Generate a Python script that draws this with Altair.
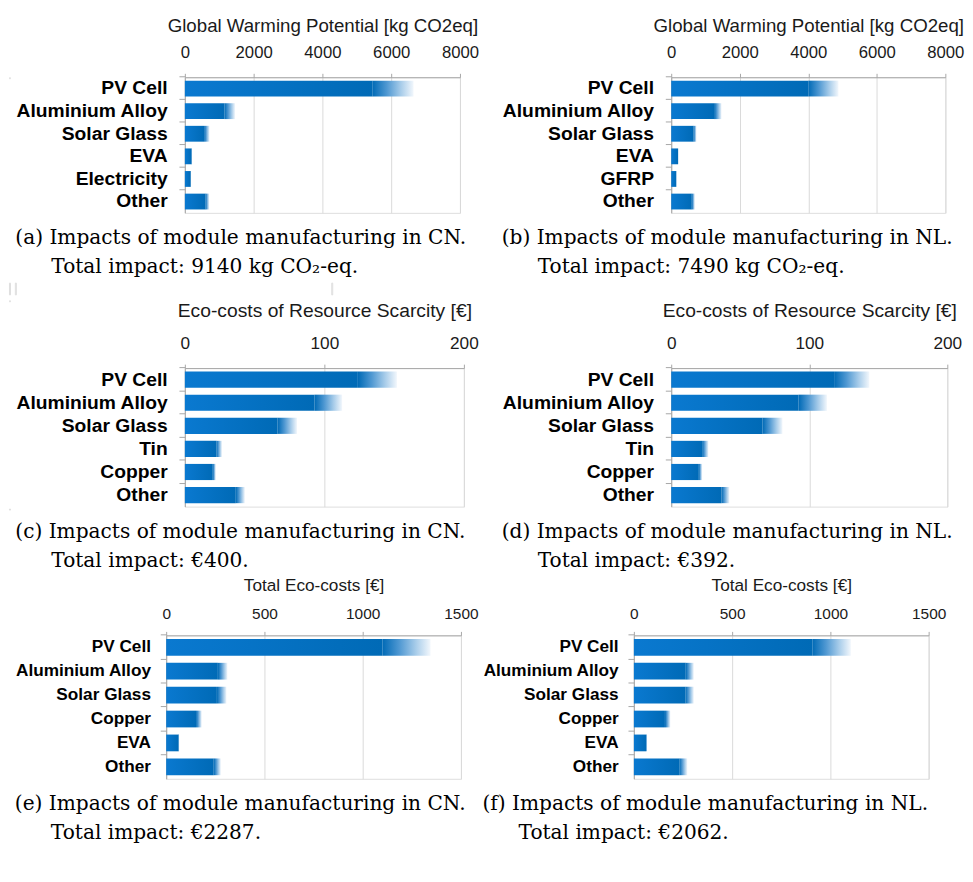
import altair as alt
import pandas as pd

# ---------------- data ----------------
a_cats = ["PV Cell", "Aluminium Alloy", "Solar Glass", "EVA", "Electricity", "Other"]
a_solid = [5450, 1150, 560, 190, 165, 600]
a_end = [6650, 1460, 720, 210, 180, 710]

b_cats = ["PV Cell", "Aluminium Alloy", "Solar Glass", "EVA", "GFRP", "Other"]
b_solid = [4000, 1250, 650, 200, 145, 600]
b_end = [4880, 1470, 740, 215, 160, 690]

c_cats = ["PV Cell", "Aluminium Alloy", "Solar Glass", "Tin", "Copper", "Other"]
c_solid = [124, 93, 66.5, 22.6, 20, 36.5]
c_end = [152, 112.7, 80.4, 26.6, 22.2, 43]

d_cats = ["PV Cell", "Aluminium Alloy", "Solar Glass", "Tin", "Copper", "Other"]
d_solid = [118, 92.3, 66.2, 22.4, 20, 36.4]
d_end = [143.5, 112.8, 80.6, 27, 22.4, 42.2]

e_cats = ["PV Cell", "Aluminium Alloy", "Solar Glass", "Copper", "EVA", "Other"]
e_solid = [1100, 263, 258, 152, 62, 242]
e_end = [1345, 312, 307, 181, 67, 278]

f_cats = ["PV Cell", "Aluminium Alloy", "Solar Glass", "Copper", "EVA", "Other"]
f_solid = [908, 264, 262, 158, 62, 231]
f_end = [1104, 305, 305, 186, 67, 272]

gwp_title = "Global Warming Potential [kg CO2eq]"
res_title = "Eco-costs of Resource Scarcity [€]"
tot_title = "Total Eco-costs [€]"
gwp_ticks = [0, 2000, 4000, 6000, 8000]
res_ticks = [0, 100, 200]
tot_ticks = [0, 500, 1000, 1500]

IND = "\u200b" + "\u00a0" * 5 + "\u2009"
cap_a = ["(a) Impacts of module manufacturing in CN.", IND + "Total impact: 9140 kg CO\u2082-eq."]
cap_b = ["(b) Impacts of module manufacturing in NL.", IND + "Total impact: 7490 kg CO\u2082-eq."]
cap_c = ["(c) Impacts of module manufacturing in CN.", IND + "Total impact: €400."]
cap_d = ["(d) Impacts of module manufacturing in NL.", IND + "Total impact: €392."]
cap_e = ["(e) Impacts of module manufacturing in CN.", IND + "Total impact: €2287."]
cap_f = ["(f) Impacts of module manufacturing in NL.", IND + "Total impact: €2062."]

SANS = "Liberation Sans"
SERIF = "DejaVu Serif"

solid_grad = alt.Gradient(
    gradient="linear", x1=0, x2=1, y1=0, y2=0,
    stops=[alt.GradientStop(color="#0a79d0", offset=0),
           alt.GradientStop(color="#006ab6", offset=1)])
fade_grad = alt.Gradient(
    gradient="linear", x1=0, x2=1, y1=0, y2=0,
    stops=[alt.GradientStop(color="#006ab6", offset=0),
           alt.GradientStop(color="#4f98d2", offset=0.35),
           alt.GradientStop(color="#a9cdea", offset=0.7),
           alt.GradientStop(color="#f2f7fc", offset=1)])


def panel(cats, solid, end, xtitle, ticks, width, height, caption,
          lab_fs, tick_fs, title_fs, title_pad, lab_pad, cap_off, ylab_pad):
    df = pd.DataFrame({"cat": cats, "start": [0] * len(cats),
                       "solid": solid, "end": end})
    xmax = ticks[-1]
    y = alt.Y("cat:N", sort=cats, title=None,
              scale=alt.Scale(paddingInner=0.3, paddingOuter=0.15),
              axis=alt.Axis(labelFont=SANS, labelFontWeight="bold",
                            labelFontSize=lab_fs, labelColor="#000000",
                            labelPadding=ylab_pad, tickSize=6, tickColor="#a6a6a6",
                            domainColor="#a6a6a6", bandPosition=-0.2143,
                            labelLimit=400))
    base = alt.Chart(df)
    s = base.mark_bar(color=solid_grad).encode(
        x=alt.X("start:Q", scale=alt.Scale(domain=[0, xmax], nice=False),
                axis=alt.Axis(orient="top", values=ticks, format="d", title=xtitle,
                              titleFont=SANS, titleFontSize=title_fs,
                              titleFontWeight="normal", titleColor="#1a1a1a",
                              titlePadding=title_pad,
                              labelFont=SANS, labelFontSize=tick_fs,
                              labelColor="#1a1a1a", labelPadding=lab_pad,
                              grid=True, gridColor="#d9d9d9",
                              domainColor="#a6a6a6", tickColor="#a6a6a6",
                              tickSize=4, labelFlush=False)),
        x2="solid:Q", y=y)
    f = base.mark_bar(color=fade_grad).encode(x="solid:Q", x2="end:Q", y=y)
    tp = alt.TitleParams(text=caption, orient="bottom", anchor="start",
                         frame="bounds", font=SERIF, fontSize=20.5,
                         fontWeight="normal", color="#000000",
                         lineHeight=29, offset=cap_off)
    return alt.layer(s, f).properties(width=width, height=height, title=tp)


def spacer(h):
    sdf = pd.DataFrame({"v": [0.5]})
    return alt.Chart(sdf).mark_point(size=0, opacity=0, strokeWidth=0).encode(
        x=alt.X("v:Q", axis=None, scale=alt.Scale(domain=[0, 1])),
        y=alt.Y("v:Q", axis=None, scale=alt.Scale(domain=[0, 1]))
    ).properties(width=1, height=h)


pa = panel(a_cats, a_solid, a_end, gwp_title, gwp_ticks, 280, 138, cap_a,
           19.6, 17, 19, 9, 12, 16, 12)
pb = panel(b_cats, b_solid, b_end, gwp_title, gwp_ticks, 279, 138, cap_b,
           19.6, 17, 19, 9, 12, 16, 12)
pc = panel(c_cats, c_solid, c_end, res_title, res_ticks, 284, 141, cap_c,
           19.6, 17.5, 19.6, 15, 12, 16, 12)
pd_ = panel(d_cats, d_solid, d_end, res_title, res_ticks, 281, 141, cap_d,
            19.6, 17.5, 19.6, 15, 12, 16, 12)
pe = panel(e_cats, e_solid, e_end, tot_title, tot_ticks, 300, 146, cap_e,
           17.5, 15.7, 17.5, 12, 10, 16, 10)
pf = panel(f_cats, f_solid, f_end, tot_title, tot_ticks, 300, 146, cap_f,
           17.5, 15.7, 17.5, 12, 10, 16, 10)

cells = [spacer(1), pa, pb,
         spacer(12), spacer(12), spacer(12),
         spacer(1), pc, pd_,
         spacer(1), pe, pf]

chart = alt.concat(*cells, columns=3, align="none",
                   spacing=alt.RowColnumber(row=4, column=3)).resolve_scale(
    x="independent", y="independent").properties(padding=0).configure_view(
    strokeWidth=0).configure(background="#ffffff")

chart.save("out.html", embed_options={"renderer": "svg", "actions": False})
